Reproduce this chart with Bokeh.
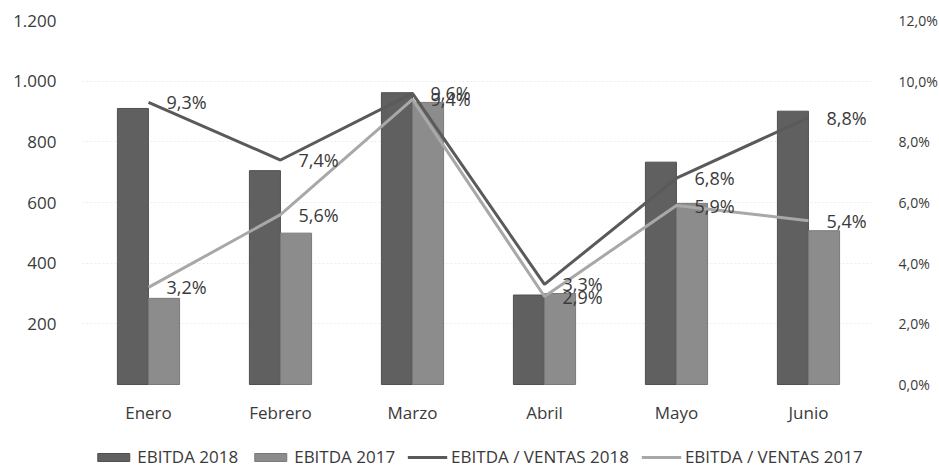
from bokeh.plotting import figure
from bokeh.models import (FactorRange, Range1d, LinearAxis, FixedTicker,
                          ColumnDataSource, Legend, LegendItem)
from bokeh.transform import dodge
from bokeh.core.properties import value
from bokeh.embed import file_html
from bokeh.resources import INLINE

# ---- data ----
meses = ["Enero", "Febrero", "Marzo", "Abril", "Mayo", "Junio"]
ebitda_2018 = [910, 705, 962, 295, 733, 901]
ebitda_2017 = [284, 499, 930, 300, 597, 507]
ratio_2018 = [9.3, 7.4, 9.6, 3.3, 6.8, 8.8]
ratio_2017 = [3.2, 5.6, 9.4, 2.9, 5.9, 5.4]
left_ticks = [200, 400, 600, 800, 1000, 1200]
left_labels = ["200", "400", "600", "800", "1.000", "1.200"]
right_ticks = [0, 2, 4, 6, 8, 10, 12]
right_labels = ["0,0%", "2,0%", "4,0%", "6,0%", "8,0%", "10,0%", "12,0%"]

FONT = "Open Sans"
TXT = "#3a3a3a"

# layout: plot area 364px tall for the data, plus 84px reserved below for labels/legend
PLOT_H = 364
EXTRA_H = 84
LMAX, RMAX = 1200, 12
lmin = -LMAX * EXTRA_H / PLOT_H
rmin = -RMAX * EXTRA_H / PLOT_H

src = ColumnDataSource(dict(
    mes=meses, e18=ebitda_2018, e17=ebitda_2017,
    r18=ratio_2018, r17=ratio_2017,
    l18=[f"{v:.1f}%".replace(".", ",") for v in ratio_2018],
    l17=[f"{v:.1f}%".replace(".", ",") for v in ratio_2017],
))

p = figure(x_range=FactorRange(factors=meses, range_padding=0), y_range=Range1d(lmin, LMAX),
           frame_width=792, frame_height=PLOT_H + EXTRA_H,
           output_backend="svg", toolbar_location=None,
           min_border_left=82, min_border_right=40, min_border_top=20, min_border_bottom=0)
p.extra_y_ranges = {"pct": Range1d(rmin, RMAX)}
p.outline_line_color = None
p.background_fill_color = "white"

# gridlines
p.xgrid.grid_line_color = None
p.ygrid.grid_line_color = "#ececec"
p.ygrid.grid_line_dash = "2 2"
p.ygrid.ticker = FixedTicker(ticks=left_ticks)

# bars
b18 = p.vbar(x=dodge("mes", -0.118, range=p.x_range), top="e18", bottom=0, width=0.235,
             source=src, fill_color="#606060", line_color="#505050", line_width=1)
b17 = p.vbar(x=dodge("mes", 0.118, range=p.x_range), top="e17", bottom=0, width=0.235,
             source=src, fill_color="#8c8c8c", line_color="#7a7a7a", line_width=1)

# lines
l18 = p.line(x="mes", y="r18", source=src, y_range_name="pct",
             line_color="#5a5a5a", line_width=3)
l17 = p.line(x="mes", y="r17", source=src, y_range_name="pct",
             line_color="#a8a8a8", line_width=3)

# data labels
for col, ycol in (("l18", "r18"), ("l17", "r17")):
    p.text(x="mes", y=ycol, text=col, source=src, y_range_name="pct",
           x_offset=18, text_baseline="middle", text_align="left",
           text_font=value(FONT), text_font_size="18px", text_color=TXT)

# axes
p.xaxis.fixed_location = 0
p.xaxis.axis_line_color = None
p.xaxis.major_tick_line_color = None
p.xaxis.minor_tick_line_color = None
p.xaxis.major_label_text_font = FONT
p.xaxis.major_label_text_font_size = "17px"
p.xaxis.major_label_text_color = TXT
p.xaxis.major_label_standoff = 10

p.yaxis.ticker = FixedTicker(ticks=left_ticks)
p.yaxis.major_label_overrides = {t: l for t, l in zip(left_ticks, left_labels)}
p.yaxis.axis_line_color = None
p.yaxis.major_tick_line_color = None
p.yaxis.minor_tick_line_color = None
p.yaxis.major_label_text_font = FONT
p.yaxis.major_label_text_font_size = "17px"
p.yaxis.major_label_text_color = TXT
p.yaxis.major_label_standoff = 20

ry = LinearAxis(y_range_name="pct", ticker=FixedTicker(ticks=right_ticks))
ry.major_label_overrides = {t: l for t, l in zip(right_ticks, right_labels)}
ry.axis_line_color = None
ry.major_tick_line_color = None
ry.minor_tick_line_color = None
ry.major_label_text_font = FONT
ry.major_label_text_font_size = "14px"
ry.major_label_text_color = TXT
ry.major_label_standoff = 18
p.add_layout(ry, "right")

legend = Legend(items=[
    LegendItem(label="EBITDA 2018", renderers=[b18]),
    LegendItem(label="EBITDA 2017", renderers=[b17]),
    LegendItem(label="EBITDA / VENTAS 2018", renderers=[l18]),
    LegendItem(label="EBITDA / VENTAS 2017", renderers=[l17]),
], orientation="horizontal", location="bottom_center")
legend.label_text_font = FONT
legend.label_text_font_size = "17px"
legend.label_text_color = TXT
legend.glyph_width = 40
legend.glyph_height = 10
legend.spacing = 12
legend.label_standoff = 4
legend.border_line_color = None
legend.background_fill_alpha = 0
legend.margin = 0
legend.padding = 0
p.add_layout(legend, "center")

open("out.html", "w").write(file_html(p, INLINE))
